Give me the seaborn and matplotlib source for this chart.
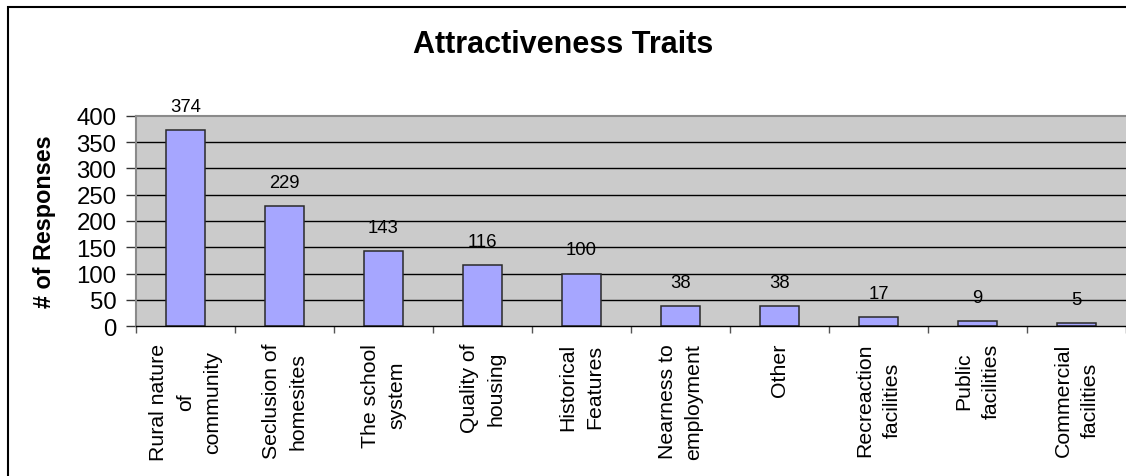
import matplotlib
matplotlib.use("Agg")
import matplotlib.pyplot as plt
from matplotlib.patches import Rectangle
import seaborn as sns

# Survey responses per attractiveness trait
categories = [
    "Rural nature\nof\ncommunity",
    "Seclusion of\nhomesites",
    "The school\nsystem",
    "Quality of\nhousing",
    "Historical\nFeatures",
    "Nearness to\nemployment",
    "Other",
    "Recreaction\nfacilities",
    "Public\nfacilities",
    "Commercial\nfacilities",
]
responses = [374, 229, 143, 116, 100, 38, 38, 17, 9, 5]
y_ticks = [0, 50, 100, 150, 200, 250, 300, 350, 400]

sns.set_style("white")
plt.rcParams["font.family"] = ["Liberation Sans", "DejaVu Sans"]
plt.rcParams["text.color"] = "black"
plt.rcParams["xtick.labelcolor"] = "black"
plt.rcParams["ytick.labelcolor"] = "black"

W, H = 1126, 477
fig = plt.figure(figsize=(W / 100, H / 100), dpi=100)
fig.patch.set_facecolor("white")

ax = fig.add_axes([136 / W, (H - 327) / H, (W - 136) / W, 210 / H])
ax.set_facecolor("#CBCBCB")

sns.barplot(x=list(range(len(categories))), y=responses, color="#A6A6FF",
            edgecolor="#2A2A2A", linewidth=1.1, width=0.4, saturation=1,
            ax=ax, zorder=2)

ax.set_xlim(-0.5, len(categories) - 0.5)
ax.set_ylim(0, 400)
ax.set_yticks(y_ticks)
ax.set_yticklabels([str(t) for t in y_ticks], fontsize=17.3)

# horizontal gridlines drawn over the value labels, under the bars
for t in y_ticks[1:-1]:
    ax.axhline(t, color="black", lw=1.0, zorder=1.5)

ax.spines["right"].set_visible(False)
ax.spines["top"].set_color("#8A8A8A")
ax.spines["top"].set_linewidth(1.5)
ax.spines["left"].set_color("#8A8A8A")
ax.spines["left"].set_linewidth(1.5)
ax.spines["bottom"].set_color("black")
ax.spines["bottom"].set_linewidth(1.0)

ax.tick_params(axis="y", direction="out", length=7, width=1.0,
               color="#333333", pad=7, left=True)

# category labels centred, separators at category boundaries
ax.set_xticks(range(len(categories)))
ax.set_xticklabels(categories, rotation=90, ha="center", va="top",
                   multialignment="center", fontsize=15.3, linespacing=1.52)
ax.tick_params(axis="x", which="major", length=0, pad=12)
ax.set_xticks([i - 0.5 for i in range(len(categories) + 1)], minor=True)
ax.tick_params(axis="x", which="minor", direction="out", length=5,
               width=1.0, color="#555555", bottom=True)
ax.set_xlabel("")
ax.set_ylabel("")

# value labels above each bar
for i, v in enumerate(responses):
    ax.annotate(str(v), xy=(i, v), xytext=(0, 17), textcoords="offset points",
                ha="center", va="center", fontsize=13.3, color="black",
                zorder=1, annotation_clip=False)

fig.text(0.5, 1 - 45 / H, "Attractiveness Traits", ha="center", va="center",
         fontsize=22, fontweight="bold")
fig.text(45 / W, 1 - 222 / H, "# of Responses", ha="center", va="center",
         rotation=90, fontsize=16.8, fontweight="bold")

# chart frame
fig.add_artist(Rectangle((8.3 / W, -0.2), 1.5, 1.2 - 8.3 / H,
                         transform=fig.transFigure, fill=False,
                         edgecolor="black", linewidth=1.5))

fig.savefig("out.png", dpi=100)
